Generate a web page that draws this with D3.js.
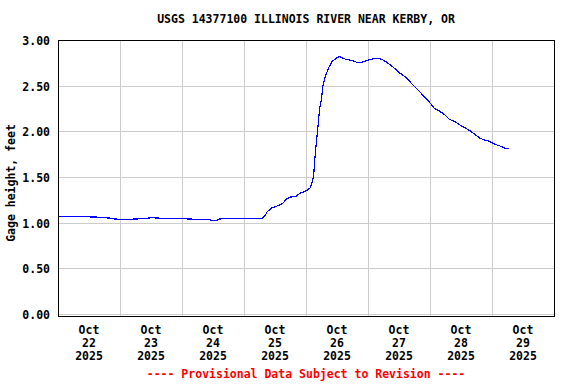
<!DOCTYPE html>
<html>
<head>
<meta charset="utf-8">
<script src="https://cdn.jsdelivr.net/npm/d3@7"></script>
<style>
  html, body { margin: 0; padding: 0; background: #fff; }
  text { font-family: "DejaVu Sans Mono", monospace; font-weight: bold; font-size: 11.5px; }
</style>
</head>
<body>
<svg id="chart" width="576" height="384"></svg>
<script>
const title = "USGS 14377100 ILLINOIS RIVER NEAR KERBY, OR";
const yLabel = "Gage height, feet";
const footer = "---- Provisional Data Subject to Revision ----";
const yTicks = [0, 0.5, 1.0, 1.5, 2.0, 2.5, 3.0];
const dayLabels = ["2025-10-22", "2025-10-23", "2025-10-24", "2025-10-25", "2025-10-26", "2025-10-27", "2025-10-28", "2025-10-29"];
const monthNames = ["Jan","Feb","Mar","Apr","May","Jun","Jul","Aug","Sep","Oct","Nov","Dec"];

const times = [
  "2025-10-22T00:00","2025-10-22T04:30","2025-10-22T10:00","2025-10-22T16:00","2025-10-22T20:00","2025-10-22T22:00",
  "2025-10-23T02:00","2025-10-23T06:00","2025-10-23T10:00","2025-10-23T12:00","2025-10-23T15:00","2025-10-23T19:00","2025-10-23T23:00",
  "2025-10-24T03:00","2025-10-24T07:00","2025-10-24T11:00","2025-10-24T13:00","2025-10-24T14:30","2025-10-24T18:30","2025-10-24T22:00",
  "2025-10-25T02:00","2025-10-25T07:00","2025-10-25T08:00","2025-10-25T09:00","2025-10-25T10:45","2025-10-25T13:00","2025-10-25T15:00",
  "2025-10-25T16:30","2025-10-25T17:45","2025-10-25T20:00","2025-10-25T21:30","2025-10-25T23:30",
  "2025-10-26T01:30","2025-10-26T02:15","2025-10-26T03:00","2025-10-26T03:15","2025-10-26T03:45","2025-10-26T04:15","2025-10-26T04:45",
  "2025-10-26T05:15","2025-10-26T06:00","2025-10-26T06:30","2025-10-26T07:15","2025-10-26T08:00","2025-10-26T09:00","2025-10-26T10:15",
  "2025-10-26T11:45","2025-10-26T13:00","2025-10-26T14:15","2025-10-26T15:45","2025-10-26T17:00","2025-10-26T19:00","2025-10-26T20:00",
  "2025-10-26T21:30","2025-10-26T22:45",
  "2025-10-27T00:00","2025-10-27T01:30","2025-10-27T02:30","2025-10-27T03:45","2025-10-27T05:15","2025-10-27T06:30","2025-10-27T08:30",
  "2025-10-27T10:15","2025-10-27T12:15","2025-10-27T14:15","2025-10-27T16:00","2025-10-27T18:00","2025-10-27T20:00","2025-10-27T22:00",
  "2025-10-27T23:45",
  "2025-10-28T01:45","2025-10-28T03:45","2025-10-28T05:45","2025-10-28T07:30","2025-10-28T09:30","2025-10-28T11:30","2025-10-28T13:30",
  "2025-10-28T15:30","2025-10-28T17:15","2025-10-28T19:15","2025-10-28T21:15","2025-10-28T23:00",
  "2025-10-29T01:00","2025-10-29T03:00","2025-10-29T05:00","2025-10-29T06:45"
];
const gageHeight = [
  1.07,1.065,1.065,1.06,1.05,1.04,
  1.035,1.04,1.045,1.055,1.05,1.045,1.045,
  1.04,1.035,1.03,1.02,1.04,1.05,1.05,
  1.05,1.05,1.07,1.12,1.16,1.185,1.21,
  1.26,1.28,1.285,1.32,1.34,
  1.376,1.43,1.52,1.65,1.80,1.94,2.09,
  2.24,2.36,2.49,2.58,2.64,2.71,2.77,
  2.80,2.82,2.80,2.785,2.78,2.765,2.75,
  2.755,2.765,
  2.78,2.79,2.80,2.80,2.79,2.77,2.73,
  2.69,2.64,2.60,2.55,2.49,2.435,2.37,
  2.32,
  2.25,2.22,2.18,2.13,2.11,2.07,2.04,
  2.005,1.97,1.925,1.905,1.89,
  1.86,1.84,1.815,1.81
];

const parseT = s => { const [d, t] = s.split("T"); const [Y,M,D] = d.split("-").map(Number); const [h,m] = (t||"00:00").split(":").map(Number); return new Date(Date.UTC(Y, M-1, D, h, m)); };
const data = times.map((t, i) => ({ t: parseT(t), v: gageHeight[i] }));

const svg = d3.select("#chart");
const plotLeft = 58, plotRight = 555, plotTop = 40, plotBottom = 316;

const x = d3.scaleUtc()
  .domain([parseT("2025-10-22T00:00"), parseT("2025-10-30T00:00")])
  .range([plotLeft, plotRight - 1]);
const y = d3.scaleLinear().domain([0, 3]).range([314, 40]);

// gridlines
const grid = svg.append("g").attr("shape-rendering", "crispEdges");
grid.selectAll("line.h").data(yTicks).enter().append("line")
  .attr("x1", plotLeft).attr("x2", plotRight)
  .attr("y1", d => Math.round(y(d)) + 0.5).attr("y2", d => Math.round(y(d)) + 0.5)
  .attr("stroke", "#cccccc").attr("stroke-width", 1);
const dayBounds = d3.utcDay.range(parseT("2025-10-23T00:00"), parseT("2025-10-30T00:00"));
grid.selectAll("line.v").data(dayBounds).enter().append("line")
  .attr("x1", d => Math.round(x(d)) + 0.5).attr("x2", d => Math.round(x(d)) + 0.5)
  .attr("y1", plotTop).attr("y2", plotBottom)
  .attr("stroke", "#cccccc").attr("stroke-width", 1);

// data line
const line = d3.line().x(d => x(d.t)).y(d => y(d.v));
svg.append("path").datum(data)
  .attr("d", line)
  .attr("fill", "none")
  .attr("stroke", "#0000ff")
  .attr("stroke-width", 1.2)
  .attr("shape-rendering", "crispEdges");

// frame
svg.append("rect")
  .attr("x", plotLeft + 0.5).attr("y", plotTop + 0.5)
  .attr("width", plotRight - plotLeft - 1).attr("height", plotBottom - plotTop)
  .attr("fill", "none").attr("stroke", "#000").attr("stroke-width", 1)
  .attr("shape-rendering", "crispEdges");

// y tick labels
svg.append("g").selectAll("text").data(yTicks).enter().append("text")
  .attr("x", 50).attr("y", d => y(d) + 5)
  .attr("text-anchor", "end")
  .text(d => d.toFixed(2));

// x tick labels (centered at noon)
const xl = svg.append("g").selectAll("g").data(dayLabels).enter().append("g")
  .attr("transform", d => `translate(${x(d3.utcHour.offset(parseT(d + "T00:00"), 12))},0)`);
xl.append("text").attr("y", 334).attr("text-anchor", "middle")
  .text(d => monthNames[parseT(d).getUTCMonth()]);
xl.append("text").attr("y", 347).attr("text-anchor", "middle")
  .text(d => String(parseT(d).getUTCDate()));
xl.append("text").attr("y", 360).attr("text-anchor", "middle")
  .text(d => String(parseT(d).getUTCFullYear()));

// title
svg.append("text").attr("x", 306).attr("y", 23).attr("text-anchor", "middle").text(title);

// y axis title
svg.append("text").attr("transform", "translate(15,183) rotate(-90)")
  .attr("text-anchor", "middle").text(yLabel);

// footer
svg.append("text").attr("x", 306).attr("y", 378).attr("text-anchor", "middle")
  .attr("fill", "#ff0000").text(footer);
</script>
</body>
</html>
